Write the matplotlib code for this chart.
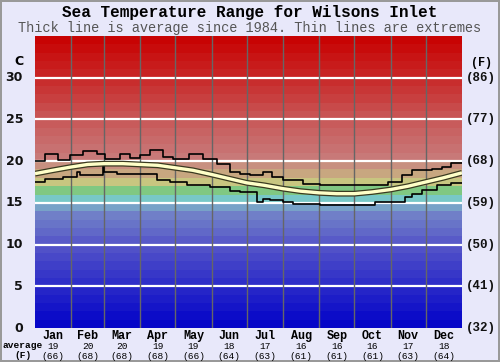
import numpy as np
import matplotlib
matplotlib.use("Agg")
from matplotlib import pyplot as plt
from matplotlib.colors import LinearSegmentedColormap

# ---- data (day of year / degrees C) ----
months = ["Jan", "Feb", "Mar", "Apr", "May", "Jun",
          "Jul", "Aug", "Sep", "Oct", "Nov", "Dec"]
month_avg_c = [19, 20, 20, 19, 19, 18, 17, 16, 16, 16, 17, 18]
month_avg_f = [66, 68, 68, 68, 66, 64, 63, 61, 61, 61, 63, 64]
month_starts = [0, 31, 59, 90, 120, 151, 181, 212, 243, 273, 304, 334, 365]

avg_day = [0, 15, 31, 45, 59, 75, 90, 105, 120, 135, 151, 166, 181,
           196, 212, 227, 243, 258, 273, 288, 304, 319, 334, 349, 365]
avg_temp = [18.5, 18.9, 19.3, 19.6, 19.7, 19.7, 19.6, 19.5, 19.2, 18.9,
            18.4, 17.9, 17.4, 17.1, 16.7, 16.4, 16.2, 16.1, 16.1, 16.3,
            16.6, 17.0, 17.5, 18.0, 18.6]

max_day = [0, 8.5, 19.7, 30, 41, 53, 60, 73, 81, 90, 98, 109, 118, 132,
           144, 156, 167, 175, 184, 195, 203, 212, 229, 244, 302, 314,
           322, 339, 348, 356, 365]
max_temp = [20.0, 20.9, 20.1, 20.7, 21.2, 20.8, 20.3, 20.9, 20.4, 20.7,
            21.3, 20.5, 20.2, 20.8, 20.2, 19.7, 18.7, 18.5, 18.3, 18.7,
            18.1, 17.7, 17.3, 17.1, 17.5, 18.3, 18.9, 19.1, 19.3, 19.75,
            19.75]

min_day = [0, 8.5, 24, 36, 38.5, 58, 59, 70, 104, 115, 130, 150, 167,
           175, 190, 195, 201, 212, 220.5, 244, 291, 316, 322, 331, 344,
           356, 365]
min_temp = [17.5, 17.9, 18.1, 18.7, 18.3, 19.6, 18.7, 18.5, 17.7, 17.5,
            17.1, 16.9, 16.4, 16.3, 15.1, 15.5, 15.3, 15.1, 14.9, 14.8,
            15.1, 15.7, 16.1, 16.5, 17.1, 17.4, 17.4]

c_ticks = [0, 5, 10, 15, 20, 25, 30]
f_ticks = ["(32)", "(41)", "(50)", "(59)", "(68)", "(77)", "(86)"]

# ---- styling ----
BG = "#E8E8FA"
band_cmap = LinearSegmentedColormap.from_list("sea", [
    (0.0, "#0000C8"), (10 / 35, "#5555C8"), (13.5 / 35, "#7080C8"),
    (14.5 / 35, "#78A0C8"), (15.5 / 35, "#78C8C8"), (16.5 / 35, "#80C880"),
    (17.5 / 35, "#C8C880"), (18.5 / 35, "#C8A880"), (19.5 / 35, "#C89080"),
    (20.5 / 35, "#C87878"), (25 / 35, "#C85858"), (30 / 35, "#C82828"),
    (1.0, "#C80000")])
mono = ["Liberation Mono", "DejaVu Sans Mono"]

fig = plt.figure(figsize=(5.0, 3.62), dpi=100, facecolor=BG,
                 edgecolor="#999999", linewidth=1.5)
ax = fig.add_axes([35 / 500, 34 / 362, 427 / 500, 292 / 362])
ax.set_xlim(0, 365)
ax.set_ylim(0, 35)
for s in ax.spines.values():
    s.set_visible(False)
ax.set_xticks([])
ax.set_yticks([])

# temperature colour bands, one per degree
for t in range(35):
    ax.axhspan(t, t + 1, color=band_cmap((t + 0.5) / 35), lw=0, zorder=0)
for t in c_ticks[1:]:
    ax.axhline(t, color="white", lw=1.6, zorder=1)
for d in month_starts[1:-1]:
    ax.axvline(d, color="#666666", lw=1, zorder=1)

ax.step(max_day, max_temp, where="post", color="black", lw=1.2, zorder=3)
ax.step(min_day, min_temp, where="post", color="black", lw=1.2, zorder=3)
ax.plot(avg_day, avg_temp, color="#3a3a20", lw=4.2, zorder=4,
        solid_capstyle="butt")
ax.plot(avg_day, avg_temp, color="#FFFFC8", lw=2.4, zorder=5,
        solid_capstyle="butt")

# axis labels
ytr = ax.get_yaxis_transform()
for c, f in zip(c_ticks, f_ticks):
    ax.text(-0.028, c, str(c), transform=ytr, ha="right", va="center",
            fontsize=9, fontweight="bold", family="DejaVu Sans",
            color="#111111", clip_on=False)
    ax.text(1.009, c, f, transform=ytr, ha="left", va="center",
            fontsize=9, fontweight="bold", family=mono, color="#111111",
            clip_on=False)
ax.text(-0.028, 32.0, "C", transform=ytr, ha="right", va="center",
        fontsize=9, fontweight="bold", family="DejaVu Sans", clip_on=False)
ax.text(1.02, 31.8, "(F)", transform=ytr, ha="left", va="center",
        fontsize=8.5, fontweight="bold", family=mono, clip_on=False)

xtr = ax.get_xaxis_transform()
for i, m in enumerate(months):
    mid = (month_starts[i] + month_starts[i + 1]) / 2
    ax.text(mid, -0.026, m, transform=xtr, ha="center", va="center",
            fontsize=8.5, fontweight="bold", family=mono, clip_on=False)
    ax.text(mid, -0.062, str(month_avg_c[i]), transform=xtr, ha="center",
            va="center", fontsize=6.8, family=mono, clip_on=False)
    ax.text(mid, -0.096, f"({month_avg_f[i]})", transform=xtr,
            ha="center", va="center", fontsize=6.8, family=mono,
            clip_on=False)

fig.text(23 / 500, 1 - 346 / 362, "average", ha="center", va="center",
         fontsize=6.8, fontweight="bold", family=mono)
fig.text(23 / 500, 1 - 356 / 362, "(F)", ha="center", va="center",
         fontsize=6.8, fontweight="bold", family=mono)

fig.text(0.5, 1 - 12 / 362, "Sea Temperature Range for Wilsons Inlet",
         ha="center", va="center", fontsize=11.5, fontweight="bold",
         family=mono)
fig.text(0.5, 1 - 28 / 362,
         "Thick line is average since 1984. Thin lines are extremes",
         ha="center", va="center", fontsize=9.8, family=mono,
         color="#555555")

fig.savefig("out.png", dpi=100, facecolor=BG)
